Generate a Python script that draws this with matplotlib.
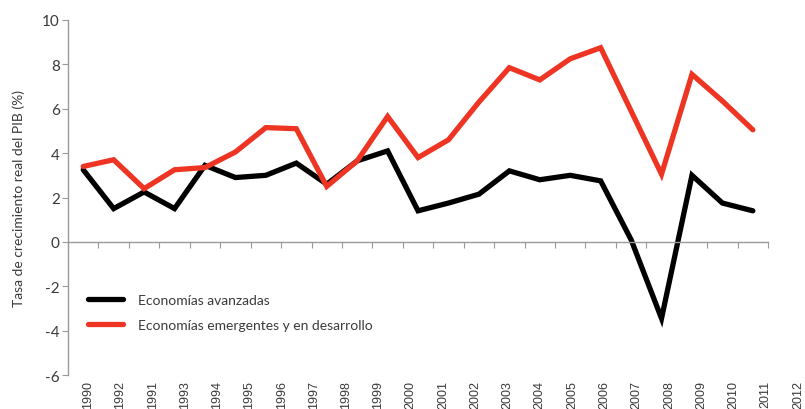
"""
Tasa de crecimiento real del PIB, 1990-2012
"""
import matplotlib
matplotlib.use("Agg")
import matplotlib.pyplot as plt
import matplotlib.transforms as mtransforms

# Data
YEARS = list(range(1990, 2013))
AVANZADAS = [3.25, 1.5, 2.25, 1.5, 3.45, 2.9, 3.0, 3.55, 2.6, 3.65, 4.1, 1.4,
             1.75, 2.15, 3.2, 2.8, 3.0, 2.75, 0.1, -3.45, 3.0, 1.75, 1.4]
EMERGENTES = [3.4, 3.7, 2.4, 3.25, 3.35, 4.05, 5.15, 5.1, 2.5, 3.65, 5.65, 3.8,
              4.6, 6.3, 7.85, 7.3, 8.25, 8.75, 5.9, 3.05, 7.55, 6.35, 5.05]
# tick labels exactly as printed in the source (including the odd order)
TICK_LABELS = ["1990", "1992", "1991", "1993", "1994", "1995", "1996", "1997",
               "1998", "1999", "2000", "2001", "2002", "2003", "2004", "2005",
               "2006", "2007", "2008", "2009", "2010", "2011", "2012"]
Y_TICKS = [-6, -4, -2, 0, 2, 4, 6, 8, 10]

BLACK = "#000000"
RED = "#EE3524"
AXIS_GREY = "#9a9a9a"
TEXT_GREY = "#3a3a3a"

plt.rcParams["font.family"] = ["Lato", "DejaVu Sans"]

fig = plt.figure(figsize=(8.05, 4.10), dpi=100)
ax = fig.add_axes([0.0845, 0.0829, 0.8696, 0.8659])

x = list(range(len(YEARS)))
ax.plot(x, AVANZADAS, color=BLACK, lw=3.8, solid_capstyle="round",
        solid_joinstyle="miter", label="Economías avanzadas")
ax.plot(x, EMERGENTES, color=RED, lw=3.8, solid_capstyle="round",
        solid_joinstyle="miter", label="Economías emergentes y en desarrollo")

ax.set_xlim(-0.5, len(YEARS) - 0.5)
ax.set_ylim(-6, 10)

# spines
for side in ("top", "right"):
    ax.spines[side].set_visible(False)
ax.spines["left"].set_color(AXIS_GREY)
ax.spines["bottom"].set_color(AXIS_GREY)
ax.spines["bottom"].set_position(("data", 0))
ax.spines["left"].set_linewidth(1.0)
ax.spines["bottom"].set_linewidth(1.0)

# y axis
ax.set_yticks(Y_TICKS)
ax.set_yticklabels([str(v) for v in Y_TICKS])
ax.tick_params(axis="y", direction="out", length=4, width=0.8,
               color=AXIS_GREY, labelcolor=TEXT_GREY, labelsize=11, pad=2)
ax.set_ylabel("Tasa de crecimiento real del PIB (%)", fontsize=10,
              color=TEXT_GREY, labelpad=12)

# x axis: tick marks on the zero line at category boundaries, no labels there
ax.set_xticks([i - 0.5 for i in range(len(YEARS) + 1)])
ax.set_xticklabels([])
ax.tick_params(axis="x", direction="out", length=4, width=0.8,
               color=AXIS_GREY)

# year labels printed under the plot area
trans = mtransforms.offset_copy(ax.get_xaxis_transform(), fig=fig,
                                x=0, y=-5, units="dots")
for i, lab in enumerate(TICK_LABELS):
    ax.text(0.16 + 1.06 * i, 0, lab, transform=trans, rotation=90,
            ha="center", va="top", fontsize=9, color=TEXT_GREY,
            family=["Liberation Sans", "DejaVu Sans"], clip_on=False)

leg = ax.legend(loc="upper left", bbox_to_anchor=(0.029, 0.228),
                frameon=False, fontsize=10, handlelength=2.5,
                handletextpad=1.1, labelspacing=0.95, borderpad=0,
                borderaxespad=0)
for t in leg.get_texts():
    t.set_color(TEXT_GREY)

fig.savefig("out.png", dpi=100)
